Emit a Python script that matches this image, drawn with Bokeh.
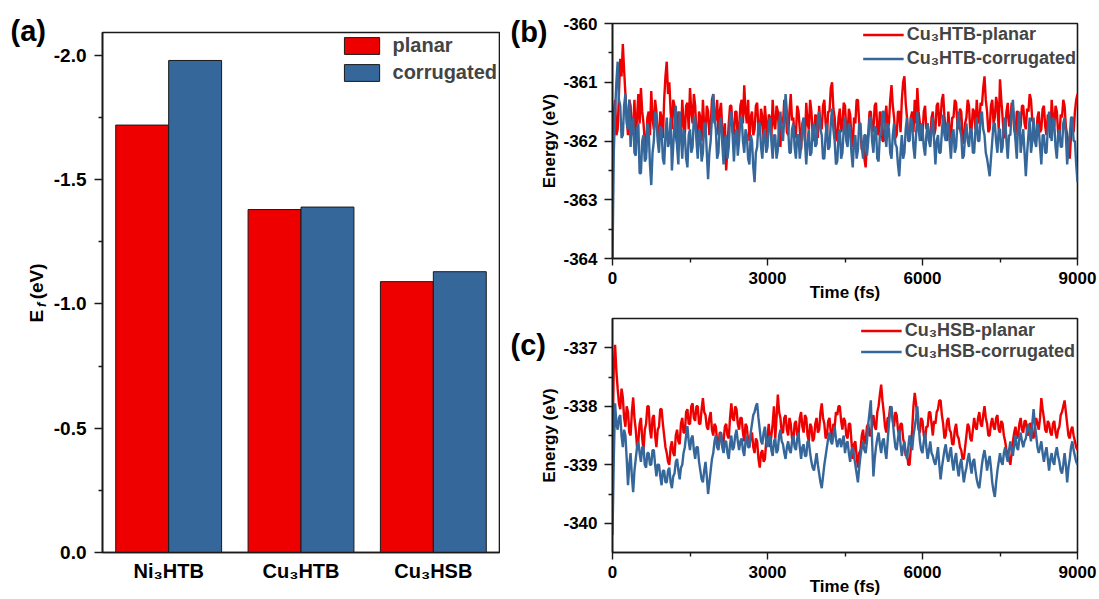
import math
from bokeh.plotting import figure
from bokeh.models import (Range1d, FixedTicker, PrintfTickFormatter, Legend, LegendItem,
                          Label, ColumnDataSource)
from bokeh.transform import dodge
from bokeh.layouts import row, column
from bokeh.embed import file_html
from bokeh.resources import INLINE

# ---------------- data ----------------
CATEGORIES = ["Ni₃HTB", "Cu₃HTB", "Cu₃HSB"]
EF_PLANAR = [-1.72, -1.38, -1.09]
EF_CORRUGATED = [-1.98, -1.39, -1.13]
BAR_SERIES = ["planar", "corrugated"]

B_NAMES = ["Cu₃HTB-planar", "Cu₃HTB-corrugated"]
C_NAMES = ["Cu₃HSB-planar", "Cu₃HSB-corrugated"]

TIME_STEP_FS = 25

B_PLANAR = [
    -361.9, -361.5, -361.3, -361.9, -361.8, -361.2, -360.6, -360.9, -360.35, -360.8, -361.2, -361.6, -361.9, -361.3, -361.4, -361.9, -361.75, -361.3, -362.0, -361.6,
    -361.2, -361.7, -361.1, -361.5, -361.7, -362.0, -362.2, -361.6, -361.5, -361.9, -361.15, -361.6, -361.8, -361.3, -361.5, -361.9, -362.0, -361.5, -361.6, -361.95,
    -361.3, -360.9, -360.65, -361.2, -361.0, -361.5, -361.8, -361.3, -361.4, -361.9, -362.05, -361.5, -361.6, -362.0, -361.3, -361.7, -361.9, -361.4, -361.35, -361.8,
    -361.1, -361.5, -361.7, -361.2, -361.4, -361.85, -362.1, -361.5, -361.6, -362.0, -361.3, -361.75, -361.9, -361.4, -361.5, -361.9, -361.75, -361.3, -361.2, -361.7,
    -361.6, -361.3, -361.9, -361.5, -361.35, -361.8, -362.1, -361.7, -362.5, -362.1, -361.7, -361.4, -361.4, -361.85, -361.9, -361.5, -361.5, -362.0, -361.8, -361.4,
    -361.3, -361.7, -361.05, -361.5, -361.7, -361.3, -362.0, -361.6, -361.5, -361.9, -361.8, -361.4, -361.35, -361.8, -361.9, -361.45, -361.6, -362.0, -361.4, -361.7,
    -362.0, -361.55, -361.6, -361.95, -361.3, -361.7, -361.8, -361.4, -361.5, -361.9, -362.1, -361.6, -361.7, -361.3, -361.4, -361.85, -361.9, -361.5, -361.2, -361.65,
    -361.6, -361.95, -361.9, -361.4, -361.5, -361.8, -362.15, -361.7, -361.7, -362.0, -361.35, -361.7, -361.8, -361.3, -361.5, -361.9, -362.0, -361.55, -361.6, -361.95,
    -361.4, -361.75, -361.8, -361.4, -361.3, -361.7, -361.9, -361.5, -361.5, -361.1, -361.0, -361.45, -361.6, -361.95, -362.0, -361.6, -361.45, -361.85, -361.75, -361.35,
    -361.4, -361.8, -361.9, -361.45, -361.55, -361.95, -362.1, -361.6, -361.7, -361.3, -361.3, -361.7, -361.8, -362.15, -362.0, -362.3, -362.45, -362.0, -361.9, -361.5,
    -361.5, -361.85, -361.8, -361.4, -361.35, -361.8, -361.9, -361.5, -361.6, -362.0, -362.0, -361.6, -361.4, -361.8, -361.7, -361.3, -361.05, -361.4, -361.6, -361.95,
    -361.9, -361.5, -361.5, -361.85, -361.3, -361.0, -360.9, -361.35, -361.6, -362.0, -361.95, -361.6, -361.5, -361.85, -361.3, -361.7, -361.1, -361.5, -361.7, -362.0,
    -361.9, -361.5, -361.4, -361.8, -361.7, -362.0, -362.0, -361.6, -361.5, -361.9, -361.8, -361.4, -361.35, -361.75, -361.6, -361.3, -361.2, -361.6, -361.8, -362.0,
    -361.5, -361.8, -362.0, -361.6, -361.6, -361.3, -361.35, -361.7, -361.8, -361.45, -361.5, -361.9, -362.05, -361.7, -361.6, -361.3, -361.4, -361.85, -361.8, -361.45,
    -361.5, -361.8, -361.3, -361.6, -361.7, -361.35, -361.4, -361.1, -360.9, -361.3, -361.5, -361.85, -361.8, -361.4, -361.3, -361.7, -361.6, -361.25, -361.4, -361.8,
    -360.95, -361.3, -361.6, -361.95, -361.9, -361.5, -361.35, -361.75, -361.7, -361.35, -361.45, -361.8, -361.9, -361.5, -361.5, -361.85, -361.75, -361.4, -361.4, -361.7,
    -361.8, -361.45, -361.5, -361.2, -361.3, -361.65, -361.7, -362.0, -362.0, -361.6, -361.5, -361.85, -361.8, -361.45, -361.4, -361.75, -361.9, -361.55, -361.6, -361.95,
    -361.3, -361.6, -361.75, -361.4, -361.5, -361.85, -361.95, -361.55, -361.6, -361.3, -361.4, -361.75, -361.9, -362.1, -362.3, -361.9, -361.6, -361.85, -361.5, -361.3,
    -361.2,
]

B_CORRUGATED = [
    -364.0, -362.2, -361.5, -361.0, -360.65, -361.3, -361.4, -361.95, -361.9, -361.4, -361.2, -361.7, -361.8, -361.3, -362.1, -361.7, -361.6, -362.2, -362.25, -361.8,
    -361.7, -362.55, -362.55, -362.0, -361.9, -362.35, -362.3, -361.7, -361.8, -362.4, -362.75, -362.2, -362.0, -361.5, -361.6, -362.0, -362.2, -361.75, -361.8, -362.3,
    -362.4, -361.9, -361.6, -362.1, -362.0, -361.6, -362.5, -362.1, -361.7, -361.4, -362.1, -362.4, -361.5, -361.9, -362.3, -361.8, -361.9, -362.3, -362.45, -361.9,
    -361.8, -362.2, -362.1, -361.6, -361.6, -362.0, -362.3, -361.8, -361.9, -362.35, -362.2, -361.7, -361.7, -362.2, -362.65, -362.2, -362.0, -361.6, -361.2, -361.6,
    -361.8, -362.3, -362.2, -361.7, -361.6, -362.05, -362.4, -361.95, -361.9, -362.3, -362.1, -361.6, -361.5, -361.9, -362.35, -361.9, -361.8, -362.25, -362.0, -361.6,
    -361.6, -362.0, -362.2, -361.8, -361.9, -362.3, -362.4, -361.9, -362.0, -362.45, -362.7, -362.2, -362.1, -361.7, -361.7, -362.1, -362.3, -361.9, -361.8, -362.2,
    -362.1, -361.7, -361.6, -362.0, -362.3, -361.9, -361.9, -362.3, -362.15, -361.7, -361.5, -361.85, -362.0, -361.6, -361.2, -361.5, -361.8, -362.2, -362.2, -361.8,
    -361.7, -362.1, -362.3, -361.9, -361.9, -362.3, -362.1, -361.7, -361.6, -362.0, -362.4, -362.0, -361.8, -362.25, -362.2, -361.8, -361.7, -362.1, -362.05, -361.6,
    -361.5, -361.8, -361.9, -362.3, -362.3, -361.9, -361.7, -362.15, -362.1, -361.7, -361.45, -361.8, -362.0, -362.4, -362.35, -361.9, -361.8, -362.3, -362.2, -361.8,
    -361.6, -362.0, -362.1, -361.7, -361.8, -362.2, -362.45, -362.0, -361.9, -362.3, -362.15, -361.7, -361.7, -362.1, -362.3, -361.9, -361.9, -362.25, -362.0, -361.6,
    -361.6, -362.0, -362.2, -361.75, -361.8, -362.3, -362.35, -361.9, -361.9, -361.5, -361.5, -361.9, -362.1, -361.7, -361.8, -362.2, -362.3, -361.9, -361.7, -362.05,
    -362.1, -362.4, -362.6, -362.2, -361.9, -362.3, -362.2, -361.8, -361.6, -362.0, -362.0, -361.6, -361.7, -362.1, -362.3, -361.9, -361.5, -361.8, -362.0, -361.7,
    -361.8, -362.1, -362.25, -361.9, -361.7, -362.0, -362.1, -361.8, -361.6, -362.0, -362.4, -362.0, -361.9, -362.2, -362.2, -361.85, -361.55, -361.9, -362.0, -361.7,
    -361.7, -362.0, -362.3, -361.9, -361.8, -362.2, -362.1, -361.7, -361.5, -361.8, -361.9, -362.3, -362.25, -361.9, -361.7, -362.0, -362.1, -361.8, -361.8, -362.2,
    -362.2, -361.8, -361.6, -362.0, -362.0, -361.6, -361.5, -361.8, -361.9, -362.2, -362.3, -362.45, -362.6, -362.3, -362.0, -361.7, -361.7, -362.0, -362.2, -361.8,
    -361.8, -362.2, -362.1, -361.7, -361.6, -362.0, -362.3, -361.9, -361.9, -361.5, -361.3, -361.7, -362.0, -362.3, -361.7, -361.5, -362.2, -362.0, -361.8, -362.2,
    -362.6, -362.2, -361.9, -361.6, -362.2, -362.0, -361.6, -362.0, -362.1, -361.7, -361.8, -362.1, -362.4, -361.9, -361.9, -362.2, -362.2, -361.8, -361.5, -361.8,
    -362.0, -361.6, -361.7, -362.1, -362.3, -361.9, -361.8, -362.1, -362.1, -361.7, -361.6, -361.9, -362.4, -362.1, -361.9, -361.6, -361.6, -362.0, -362.0, -362.4,
    -362.7,
]

C_PLANAR = [
    -338.7, -337.3, -336.95, -337.4, -337.7, -337.95, -338.05, -337.7, -337.85, -338.2, -338.35, -338.0, -338.1, -338.45, -338.5, -338.1, -337.85, -338.2, -338.4, -338.7,
    -338.6, -338.3, -338.2, -338.55, -338.75, -338.4, -338.3, -338.0, -338.0, -338.4, -338.55, -338.2, -338.15, -338.5, -338.7, -338.4, -338.35, -338.05, -338.05, -338.3,
    -338.5, -338.7, -338.8, -338.95, -339.0, -338.7, -338.6, -338.8, -338.85, -338.5, -338.4, -338.6, -338.65, -338.3, -338.2, -338.45, -338.45, -338.1, -338.05, -338.3,
    -338.3, -338.0, -337.95, -338.2, -338.25, -338.0, -338.0, -338.3, -338.3, -338.05, -337.86, -338.1, -338.15, -338.35, -338.4, -338.2, -338.1, -338.4, -338.5, -338.3,
    -338.35, -338.6, -338.7, -338.45, -338.45, -338.7, -338.6, -338.35, -338.3, -338.5, -338.55, -338.2, -337.95, -338.2, -338.25, -338.0, -338.05, -338.3, -338.4, -338.2,
    -338.2, -338.45, -338.6, -338.3, -338.35, -338.6, -338.7, -338.5, -338.45, -338.7, -338.8, -338.55, -338.6, -338.9, -339.05, -338.8, -338.75, -338.95, -338.9, -338.6,
    -338.5, -338.3, -338.7, -338.5, -338.3, -338.0, -338.55, -338.2, -337.8, -338.1, -338.2, -338.45, -338.45, -338.2, -338.15, -338.4, -338.5, -338.2, -338.3, -338.55,
    -338.6, -338.3, -338.25, -338.5, -338.5, -338.2, -338.1, -338.35, -338.45, -338.15, -338.2, -338.5, -338.6, -338.3, -338.35, -338.6, -338.55, -338.3, -338.2, -338.45,
    -338.4, -338.1, -337.95, -338.2, -338.3, -338.55, -338.5, -338.25, -338.2, -338.45, -338.6, -338.3, -338.35, -338.1, -338.15, -338.0, -338.0, -338.25, -338.4, -338.2,
    -338.25, -338.5, -338.55, -338.3, -338.3, -338.6, -338.9, -338.65, -338.6, -338.85, -339.05, -338.8, -338.75, -338.5, -338.4, -338.65, -338.6, -338.35, -338.3, -338.5,
    -338.5, -338.3, -338.15, -338.35, -338.4, -338.1, -338.0, -337.8, -337.63, -337.9, -338.1, -338.35, -338.45, -338.2, -338.2, -338.0, -338.05, -338.25, -338.35, -338.1,
    -338.15, -338.4, -338.5, -338.3, -338.3, -338.55, -338.65, -338.85, -338.8, -339.0, -339.0, -338.7, -338.4, -338.0, -337.77, -337.95, -338.2, -338.4, -338.45, -338.2,
    -338.25, -338.5, -338.6, -338.35, -338.35, -338.1, -338.1, -338.3, -338.5, -338.25, -338.3, -338.1, -338.05, -337.9, -337.9, -338.15, -338.3, -338.55, -338.5, -338.25,
    -338.2, -338.4, -338.45, -338.65, -338.65, -338.4, -338.3, -338.5, -338.55, -338.7, -338.75, -338.9, -338.9, -338.7, -338.5, -338.3, -338.35, -338.55, -338.6, -338.4,
    -338.2, -338.35, -338.4, -338.2, -338.1, -338.3, -338.35, -338.15, -338.0, -338.2, -338.3, -338.5, -338.5, -338.3, -338.2, -338.35, -338.4, -338.2, -338.15, -338.4,
    -338.45, -338.25, -338.3, -338.5, -338.6, -338.75, -338.8, -338.9, -339.0, -338.8, -338.6, -338.45, -338.35, -338.55, -338.5, -338.3, -338.2, -338.4, -338.45, -338.25,
    -338.25, -338.45, -338.5, -338.3, -338.3, -338.5, -338.55, -338.35, -338.2, -338.3, -338.4, -338.2, -337.86, -338.05, -338.2, -338.4, -338.45, -338.25, -338.3, -338.45,
    -338.5, -338.3, -338.25, -338.45, -338.55, -338.4, -338.35, -338.15, -338.1, -338.0, -337.9, -338.1, -338.3, -338.5, -338.55, -338.4, -338.35, -338.5, -338.6, -338.7,
    -338.75,
]

C_CORRUGATED = [
    -340.2, -338.9, -337.95, -338.3, -338.4, -338.2, -338.15, -338.5, -338.7, -338.4, -338.5, -338.9, -339.35, -339.0, -338.8, -339.2, -339.47, -339.1, -338.9, -338.7,
    -338.6, -338.8, -338.95, -338.7, -338.7, -339.0, -339.05, -338.8, -338.8, -339.0, -339.0, -338.75, -338.75, -339.0, -339.2, -339.0, -339.0, -339.2, -339.35, -339.1,
    -339.1, -339.3, -339.3, -339.1, -339.05, -339.3, -339.4, -339.2, -339.15, -338.95, -338.9, -339.1, -339.25, -339.05, -339.0, -338.8, -338.7, -338.5, -338.34, -338.6,
    -338.75, -338.55, -338.5, -338.75, -338.9, -338.7, -338.7, -338.95, -339.1, -339.25, -339.3, -339.1, -338.95, -339.2, -339.5, -339.3, -339.1, -338.9, -338.8, -338.6,
    -338.5, -338.7, -338.75, -338.55, -338.45, -338.7, -338.8, -338.6, -338.6, -338.8, -338.9, -338.65, -338.5, -338.75, -338.7, -338.5, -338.4, -338.6, -338.75, -338.6,
    -338.55, -338.75, -338.85, -338.6, -338.5, -338.7, -338.7, -338.45, -338.3, -338.15, -338.1, -338.0, -337.95, -338.2, -338.4, -338.6, -338.65, -338.45, -338.35, -338.6,
    -338.7, -338.55, -338.5, -338.75, -338.85, -338.6, -338.55, -338.8, -338.75, -338.5, -338.4, -338.6, -338.65, -338.8, -338.9, -338.7, -338.6, -338.75, -338.8, -338.6,
    -338.5, -338.7, -338.75, -338.55, -338.45, -338.7, -338.9, -338.7, -338.65, -338.85, -338.85, -338.6, -338.6, -338.8, -338.95, -339.05, -339.1, -338.95, -338.8, -339.0,
    -339.15, -339.3, -339.4, -339.2, -339.0, -338.85, -338.7, -338.55, -338.45, -338.6, -338.65, -338.5, -338.35, -338.55, -338.7, -338.6, -338.55, -338.7, -338.6, -338.5,
    -338.8, -338.65, -338.6, -338.8, -338.95, -338.75, -338.7, -338.85, -339.0, -339.15, -339.3, -339.05, -338.85, -338.7, -338.6, -338.75, -338.8, -338.6, -338.3, -338.1,
    -337.9, -338.6, -339.2, -338.9, -338.7, -338.55, -338.45, -338.65, -338.8, -338.6, -338.55, -338.75, -338.9, -338.6, -338.3, -338.1, -338.0, -338.25, -338.5, -338.7,
    -338.75, -338.55, -338.4, -338.65, -338.85, -338.7, -338.6, -338.8, -338.9, -338.7, -338.5, -338.65, -338.75, -338.5, -338.35, -338.2, -338.0, -338.3, -338.6, -338.75,
    -338.8, -338.6, -338.45, -338.7, -338.9, -338.75, -338.6, -338.8, -338.85, -338.95, -339.0, -338.85, -338.7, -339.0, -339.25, -339.05, -338.9, -338.75, -338.65, -338.85,
    -338.95, -338.8, -338.7, -338.95, -339.1, -338.9, -338.8, -339.05, -339.2, -339.0, -338.9, -339.1, -339.3, -339.15, -339.05, -338.9, -338.8, -339.0, -339.15, -338.95,
    -338.9, -339.1, -339.25, -339.35, -339.4, -339.2, -339.0, -338.85, -338.75, -338.9, -339.1, -338.95, -338.85, -339.05, -339.3, -339.45, -339.55, -339.3, -339.1, -338.95,
    -338.8, -338.95, -339.0, -338.8, -338.7, -338.85, -338.95, -338.75, -338.6, -338.75, -338.85, -338.65, -338.5, -338.7, -338.75, -338.55, -338.45, -338.6, -338.7, -338.6,
    -338.55, -338.4, -338.3, -338.45, -338.6, -338.3, -338.05, -338.3, -338.5, -338.7, -338.8, -338.7, -338.6, -338.8, -338.95, -338.8, -338.7, -338.9, -339.1, -338.9,
    -338.8, -338.95, -339.0, -338.8, -338.7, -338.85, -338.95, -339.1, -339.15, -339.0, -338.8, -339.0, -339.3, -339.05, -338.9, -338.7, -338.6, -338.75, -338.85, -338.95,
    -339.0,
]

A_Y_TICKS = [0.0, -0.5, -1.0, -1.5, -2.0]
A_Y_MINOR = [-0.25, -0.75, -1.25, -1.75]
B_Y_TICKS = [-364, -363, -362, -361, -360]
B_Y_MINOR = [-363.5, -362.5, -361.5, -360.5]
C_Y_TICKS = [-340, -339, -338, -337]
C_Y_MINOR = [-339.5, -338.5, -337.5]
T_TICKS = [0, 3000, 6000, 9000]
T_MINOR = [1500, 4500, 7500]

# ---------------- style ----------------
FONT = "Liberation Sans"
RED = "#EE0000"
BLUE = "#35679A"
DARK = "#1a1a1a"


def style_frame(p):
    p.xgrid.visible = False
    p.ygrid.visible = False
    p.outline_line_color = DARK
    p.outline_line_width = 1.6
    p.background_fill_color = "white"
    p.border_fill_color = "white"
    for ax in (p.xaxis[0], p.yaxis[0]):
        ax.axis_line_color = DARK
        ax.axis_line_width = 1.6
        ax.major_tick_line_color = DARK
        ax.minor_tick_line_color = DARK
        ax.major_tick_line_width = 1.4
        ax.minor_tick_line_width = 1.4
        ax.major_tick_in = 0
        ax.minor_tick_in = 0
        ax.major_label_text_font = FONT
        ax.major_label_text_font_style = "bold"
        ax.major_label_text_color = "black"
        ax.axis_label_text_font = FONT
        ax.axis_label_text_font_style = "bold"
        ax.axis_label_text_color = "black"


def lab(p, place, text, x, y, size, angle=0.0, align="left", style="bold"):
    p.add_layout(Label(x=x, y=y, x_units="canvas", y_units="canvas", text=text,
                       text_font=FONT, text_font_style=style, text_font_size=size,
                       text_align=align, text_baseline="middle", angle=angle,
                       text_color="black"), place)


# ---------------- panel (a) ----------------
pa = figure(width=500, height=599, x_range=Range1d(0.5, 3.5), y_range=Range1d(0, -2.0925),
            output_backend="svg", toolbar_location=None, title=None,
            min_border_left=102, min_border_right=1, min_border_top=32, min_border_bottom=47)
style_frame(pa)

src_a = ColumnDataSource(dict(x=[i + 1 for i in range(len(CATEGORIES))],
                              planar=EF_PLANAR, corrugated=EF_CORRUGATED))
ra1 = pa.vbar(x=dodge("x", -0.2), top="planar", bottom=0, width=0.4, source=src_a,
              fill_color=RED, line_color=DARK, line_width=1)
ra2 = pa.vbar(x=dodge("x", 0.2), top="corrugated", bottom=0, width=0.4, source=src_a,
              fill_color=BLUE, line_color=DARK, line_width=1)

xa = pa.xaxis[0]
xa.ticker = FixedTicker(ticks=[i + 1 for i in range(len(CATEGORIES))])
xa.major_label_overrides = {i + 1: c for i, c in enumerate(CATEGORIES)}
xa.major_tick_out = 0
xa.minor_tick_out = 0
xa.major_label_standoff = 7
xa.major_label_text_font_size = "20px"

ya = pa.yaxis[0]
ya.ticker = FixedTicker(ticks=A_Y_TICKS, minor_ticks=A_Y_MINOR)
ya.formatter = PrintfTickFormatter(format="%.1f")
ya.major_tick_out = 8
ya.minor_tick_out = 4
ya.major_label_standoff = 8
ya.major_label_text_font_size = "19px"

leg_a = Legend(items=[LegendItem(label=BAR_SERIES[0], renderers=[ra1]),
                      LegendItem(label=BAR_SERIES[1], renderers=[ra2])],
               location="top_right", margin=0, padding=2, spacing=4,
               glyph_width=44, glyph_height=21, label_height=21, label_standoff=9,
               label_text_font=FONT, label_text_font_style="bold",
               label_text_font_size="20px", border_line_alpha=0, background_fill_alpha=0)
pa.add_layout(leg_a)

lab(pa, "above", "(a)", 10, 30, "29px")
lab(pa, "left", "E\u00a0\u00a0(eV)", 36, 322, "19px", angle=math.pi / 2)
lab(pa, "left", "f", 41, 306.5, "13px", angle=math.pi / 2, style="bold italic")


# ---------------- panels (b), (c) ----------------
def md_panel(height, yr, yticks, yminor, planar, corr, names, top, bottom,
             leg_pad, leg_spacing, tag, tag_y):
    p = figure(width=599, height=height, x_range=Range1d(0, 9000), y_range=Range1d(*yr),
               output_backend="svg", toolbar_location=None, title=None,
               min_border_left=109, min_border_right=22, min_border_top=top,
               min_border_bottom=bottom)
    style_frame(p)
    t_planar = [TIME_STEP_FS * i for i in range(len(planar))]
    t_corr = [TIME_STEP_FS * i for i in range(len(corr))]
    r1 = p.line(t_planar, planar, line_color=RED, line_width=2.4)
    r2 = p.line(t_corr, corr, line_color=BLUE, line_width=2.4)

    xa = p.xaxis[0]
    xa.ticker = FixedTicker(ticks=T_TICKS, minor_ticks=T_MINOR)
    xa.formatter = PrintfTickFormatter(format="%d")
    xa.major_tick_out = 7
    xa.minor_tick_out = 4
    xa.major_label_standoff = 6
    xa.major_label_text_font_size = "17px"
    xa.axis_label = "Time (fs)"
    xa.axis_label_text_font_size = "17px"
    xa.axis_label_standoff = -4

    ya = p.yaxis[0]
    ya.ticker = FixedTicker(ticks=yticks, minor_ticks=yminor)
    ya.formatter = PrintfTickFormatter(format="%d")
    ya.major_tick_out = 8
    ya.minor_tick_out = 4
    ya.major_label_standoff = 7
    ya.major_label_text_font_size = "17px"
    ya.axis_label = "Energy (eV)"
    ya.axis_label_text_font_size = "17px"
    ya.axis_label_standoff = 1

    leg = Legend(items=[LegendItem(label=names[0], renderers=[r1]),
                        LegendItem(label=names[1], renderers=[r2])],
                 location="top_right", margin=0, padding=leg_pad, spacing=leg_spacing,
                 glyph_width=41, glyph_height=19, label_height=19, label_standoff=3,
                 label_text_font=FONT, label_text_font_style="bold",
                 label_text_font_size="18px", border_line_alpha=0, background_fill_alpha=0)
    p.add_layout(leg)

    lab(p, "left", tag, 10, tag_y, "29px")
    return p


pb = md_panel(305, (-364, -360), B_Y_TICKS, B_Y_MINOR, B_PLANAR, B_CORRUGATED, B_NAMES,
              23, 47, 1, 3, "(b)", 31)
pc = md_panel(294, (-340.5, -336.5), C_Y_TICKS, C_Y_MINOR, C_PLANAR, C_CORRUGATED, C_NAMES,
              13, 47, 2, 0, "(c)", 39)

layout = row(pa, column(pb, pc))

with open("out.html", "w") as f:
    f.write(file_html(layout, INLINE))
